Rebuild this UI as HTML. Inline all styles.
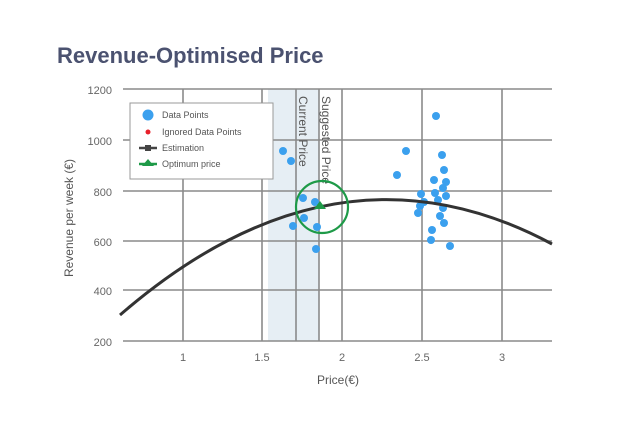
<!DOCTYPE html>
<html><head><meta charset="utf-8"><style>
html,body{margin:0;padding:0;background:#fff;width:623px;height:448px;overflow:hidden}
svg{display:block}
</style></head><body>
<svg width="623" height="448" viewBox="0 0 623 448" font-family="Liberation Sans, sans-serif">
<text x="57" y="63" font-size="22" font-weight="bold" fill="#4b5270">Revenue-Optimised Price</text>
<rect x="268" y="89" width="51" height="252" fill="#e6eef4"/>
<g stroke="#8a8a8a" stroke-width="1.6" fill="none">
<line x1="123" y1="89" x2="552" y2="89"/>
<line x1="123" y1="140" x2="552" y2="140"/>
<line x1="123" y1="191" x2="552" y2="191"/>
<line x1="123" y1="241" x2="552" y2="241"/>
<line x1="123" y1="290" x2="552" y2="290"/>
<line x1="123" y1="341" x2="552" y2="341"/>
<line x1="183" y1="89" x2="183" y2="341"/>
<line x1="262" y1="89" x2="262" y2="341"/>
<line x1="342" y1="89" x2="342" y2="341"/>
<line x1="422" y1="89" x2="422" y2="341"/>
<line x1="502" y1="89" x2="502" y2="341"/>
<line x1="296" y1="89" x2="296" y2="341"/>
<line x1="319" y1="89" x2="319" y2="341"/>
</g>
<g font-size="11" fill="#666" text-anchor="end">
<text x="112" y="94">1200</text><text x="112" y="145">1000</text><text x="112" y="196">800</text>
<text x="112" y="246">600</text><text x="112" y="295">400</text><text x="112" y="346">200</text>
</g>
<g font-size="11" fill="#666" text-anchor="middle">
<text x="183" y="361">1</text><text x="262" y="361">1.5</text><text x="342" y="361">2</text>
<text x="422" y="361">2.5</text><text x="502" y="361">3</text>
</g>
<text x="338" y="384" font-size="12" fill="#555" text-anchor="middle">Price(€)</text>
<text transform="translate(73,218) rotate(-90)" font-size="12" fill="#555" text-anchor="middle">Revenue per week (€)</text>
<g font-size="12" fill="#555">
<text transform="translate(299,96) rotate(90)">Current Price</text>
<text transform="translate(322,96) rotate(90)">Suggested Price</text>
</g>
<rect x="130" y="103" width="143" height="76" fill="#fff" stroke="#999" stroke-width="1"/>
<circle cx="148" cy="115" r="5.5" fill="#3ba0ee"/>
<circle cx="148" cy="132" r="2.5" fill="#e8202a"/>
<line x1="139" y1="148" x2="157" y2="148" stroke="#444" stroke-width="2.5"/><rect x="145" y="145" width="6" height="6" fill="#444"/>
<line x1="139" y1="164" x2="157" y2="164" stroke="#1e9a48" stroke-width="2.5"/><polygon points="148,159 154,166 142,166" fill="#1e9a48"/>
<g font-size="9" fill="#555">
<text x="162" y="118">Data Points</text><text x="162" y="135">Ignored Data Points</text>
<text x="162" y="151">Estimation</text><text x="162" y="167">Optimum price</text>
</g>
<g fill="#3ba0ee">
<circle cx="283" cy="151" r="4"/><circle cx="291" cy="161" r="4"/><circle cx="303" cy="198" r="4"/>
<circle cx="315" cy="202" r="4"/><circle cx="304" cy="218" r="4"/><circle cx="293" cy="226" r="4"/>
<circle cx="317" cy="227" r="4"/><circle cx="316" cy="249" r="4"/>
<circle cx="436" cy="116" r="4"/><circle cx="406" cy="151" r="4"/><circle cx="442" cy="155" r="4"/>
<circle cx="397" cy="175" r="4"/><circle cx="444" cy="170" r="4"/><circle cx="434" cy="180" r="4"/>
<circle cx="446" cy="182" r="4"/><circle cx="443" cy="188" r="4"/><circle cx="421" cy="194" r="4"/>
<circle cx="435" cy="193" r="4"/><circle cx="446" cy="196" r="4"/><circle cx="424" cy="202" r="4"/>
<circle cx="418" cy="213" r="4"/><circle cx="443" cy="208" r="4"/><circle cx="440" cy="216" r="4"/>
<circle cx="444" cy="223" r="4"/><circle cx="432" cy="230" r="4"/><circle cx="431" cy="240" r="4"/>
<circle cx="450" cy="246" r="4"/><circle cx="420" cy="206" r="4"/><circle cx="438" cy="200" r="4"/>
</g>
<path d="M120,315 Q335.8,128 552,244" fill="none" stroke="#333" stroke-width="3"/>
<polygon points="320,201 326,209 314,209" fill="#1e9a48"/>
<circle cx="322" cy="207" r="26" fill="none" stroke="#1e9a48" stroke-width="2.2"/>
</svg>
</body></html>
